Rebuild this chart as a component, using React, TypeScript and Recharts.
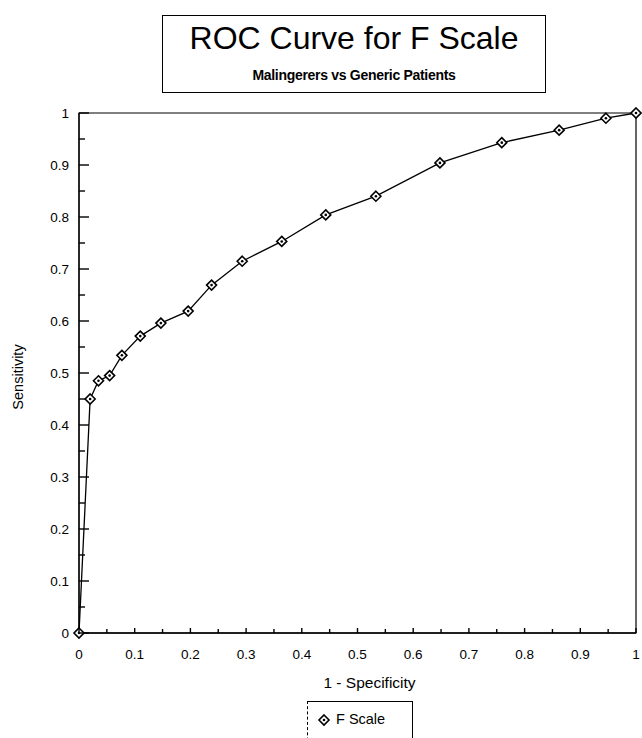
import React from 'react';
import { LineChart, Line, XAxis, YAxis, ReferenceArea, Label } from 'recharts';

const fpr = [0, 0.02, 0.035, 0.055, 0.077, 0.11, 0.147, 0.196, 0.238, 0.293, 0.364, 0.443, 0.533, 0.648, 0.759, 0.862, 0.946, 1];
const sensitivity = [0, 0.45, 0.485, 0.495, 0.534, 0.571, 0.596, 0.619, 0.669, 0.715, 0.753, 0.804, 0.84, 0.904, 0.943, 0.967, 0.99, 1];
const axisTicks = [0, 0.05, 0.1, 0.15, 0.2, 0.25, 0.3, 0.35, 0.4, 0.45, 0.5, 0.55, 0.6, 0.65, 0.7, 0.75, 0.8, 0.85, 0.9, 0.95, 1];
const seriesName = 'F Scale';
const titleText = 'ROC Curve for F Scale';
const subtitleText = 'Malingerers vs Generic Patients';
const xLabel = '1 - Specificity';
const yLabel = 'Sensitivity';

const data = fpr.map((x, i) => ({ x, y: sensitivity[i] }));

const FONT = '"Liberation Sans", Arial, sans-serif';
const Y_TICK_MARGIN = 10;
const X_TICK_MARGIN = 16;

const isMajor = (v: number) => Math.round(v * 100) % 10 === 0;
const fmt = (v: number) => String(Number(v.toFixed(2)));

const YTick = (props: any) => {
  const { x, y, payload } = props;
  const v = payload.value as number;
  const major = isMajor(v);
  const ax = Number(x) + Y_TICK_MARGIN;
  const yy = Number(y);
  return (
    <g>
      <path d={`M${ax},${yy}H${ax + (major ? 10 : 6)}`} stroke="#000" strokeWidth={1.4} fill="none" />
      {major && (
        <text x={x} y={y} dy={4.5} textAnchor="end" fontFamily={FONT} fontSize={13.5} fill="#000">
          {fmt(v)}
        </text>
      )}
    </g>
  );
};

const XTick = (props: any) => {
  const { x, y, payload } = props;
  const v = payload.value as number;
  const major = isMajor(v);
  const xx = Number(x);
  const ay = Number(y) - X_TICK_MARGIN;
  return (
    <g>
      <path d={`M${xx},${ay}V${ay - (major ? 5 : 4)}`} stroke="#000" strokeWidth={1.4} fill="none" />
      {major && (
        <text x={x} y={y} dy={10} textAnchor="middle" fontFamily={FONT} fontSize={13.5} fill="#000">
          {fmt(v)}
        </text>
      )}
    </g>
  );
};

const Diamond = (props: any) => {
  const { cx, cy } = props;
  if (cx == null || cy == null) return null;
  const r = 5;
  return (
    <g>
      <polygon
        points={`${cx},${cy - r} ${cx + r},${cy} ${cx},${cy + r} ${cx - r},${cy}`}
        fill="#fff"
        stroke="#000"
        strokeWidth={1.6}
      />
      <circle cx={cx} cy={cy} r={1.3} fill="#000" />
    </g>
  );
};

export default function App() {
  return (
    <div style={{ position: 'absolute', left: 0, top: 0, width: 642, height: 738, background: '#fff', overflow: 'hidden' }}>
      <LineChart
        width={642}
        height={738}
        data={data}
        margin={{ top: 113, right: 6, bottom: 45, left: 4 }}
      >
        <ReferenceArea x1={0} x2={1} y1={0} y2={1} fill="none" stroke="#000" strokeWidth={1.2} ifOverflow="visible" />
        <XAxis
          type="number"
          dataKey="x"
          domain={[0, 1]}
          ticks={axisTicks}
          interval={0}
          tickSize={0}
          tickMargin={X_TICK_MARGIN}
          tick={<XTick />}
          axisLine={{ stroke: '#000', strokeWidth: 1.5 }}
          tickLine={false}
          height={60}
        >
          <Label
            content={(p: any) => {
              const vb = p.viewBox;
              return (
                <text x={vb.x + vb.width / 2 + 12} y={688} textAnchor="middle" fontFamily={FONT} fontSize={15.5} fill="#000">
                  {xLabel}
                </text>
              );
            }}
          />
        </XAxis>
        <YAxis
          type="number"
          domain={[0, 1]}
          ticks={axisTicks}
          interval={0}
          tickSize={0}
          tickMargin={Y_TICK_MARGIN}
          tick={<YTick />}
          axisLine={{ stroke: '#000', strokeWidth: 1.2 }}
          tickLine={false}
          width={75}
        >
          <Label
            content={(p: any) => {
              const vb = p.viewBox;
              const cy = vb.y + vb.height / 2 + 4;
              return (
                <text
                  x={18}
                  y={cy}
                  transform={`rotate(-90 18 ${cy})`}
                  dy={5}
                  textAnchor="middle"
                  fontFamily={FONT}
                  fontSize={14.5}
                  fill="#000"
                >
                  {yLabel}
                </text>
              );
            }}
          />
        </YAxis>
        <Line
          type="linear"
          dataKey="y"
          name={seriesName}
          stroke="#000"
          strokeWidth={1.3}
          dot={<Diamond />}
          activeDot={false}
          isAnimationActive={false}
        />
      </LineChart>
      <div
        style={{
          position: 'absolute',
          left: 162,
          top: 15,
          width: 384,
          height: 78,
          border: '1.5px solid #000',
          fontFamily: FONT,
          color: '#000',
          textAlign: 'center',
          boxSizing: 'border-box',
        }}
      >
        <div style={{ fontSize: 32, lineHeight: '36px', marginTop: 4 }}>{titleText}</div>
        <div style={{ fontSize: 14, lineHeight: '18px', marginTop: 10, fontWeight: 'bold', letterSpacing: -0.3 }}>{subtitleText}</div>
      </div>
      <div
        style={{
          position: 'absolute',
          left: 307,
          top: 701,
          width: 106,
          height: 50,
          border: '1.5px solid #000',
          borderLeft: '1px dashed #000',
          boxSizing: 'border-box',
          fontFamily: FONT,
          fontSize: 14.5,
          color: '#000',
        }}
      >
        <svg width={20} height={20} style={{ position: 'absolute', left: 6, top: 8 }}>
          <Diamond cx={10} cy={10} />
        </svg>
        <span style={{ position: 'absolute', left: 28, top: 9 }}>{seriesName}</span>
      </div>
    </div>
  );
}
